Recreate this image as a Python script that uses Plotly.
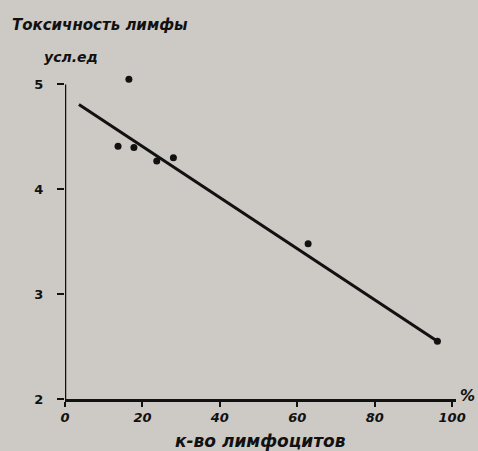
import plotly.graph_objects as go

# Data
lymph_pct = [13.7, 16.5, 17.8, 23.7, 28.0, 62.8, 96.2]
toxicity = [4.41, 5.05, 4.40, 4.27, 4.30, 3.48, 2.55]
fit_x = [3.6, 96.2]
fit_y = [4.81, 2.55]
x_ticks = [0, 20, 40, 60, 80, 100]
y_ticks = [2, 3, 4, 5]

BG = "#cdc9c4"
INK = "#111111"
FONT = "DejaVu Sans"

fig = go.Figure()
fig.add_trace(go.Scatter(x=fit_x, y=fit_y, mode="lines",
                         line=dict(color=INK, width=3), hoverinfo="skip"))
fig.add_trace(go.Scatter(x=lymph_pct, y=toxicity, mode="markers",
                         marker=dict(color=INK, size=7)))

# y axis line drawn only from 2 to 5 (range extends slightly above for the top point)
fig.add_shape(type="line", xref="x", yref="y", x0=0, x1=0, y0=y_ticks[0], y1=y_ticks[-1],
              line=dict(color=INK, width=2.5), layer="above")

tick_font = dict(family=FONT, size=13, color=INK, weight="bold", style="italic")

# plot area spans x 65..460 px, y 74..399 px
def px(x):
    return (x - 65) / 395

def py(y):
    return (399 - y) / 325

fig.update_layout(
    width=478, height=451,
    paper_bgcolor=BG, plot_bgcolor=BG,
    showlegend=False,
    margin=dict(l=65, r=18, t=74, b=52),
    xaxis=dict(range=[0, 101], tickvals=x_ticks, showgrid=False, zeroline=False,
               showline=True, linecolor=INK, linewidth=2.5,
               ticks="outside", ticklen=5, tickwidth=2, tickcolor=INK,
               tickfont=tick_font),
    yaxis=dict(range=[2, 5.1], tickvals=y_ticks, showgrid=False, zeroline=False,
               showline=False,
               ticks="outside", ticklen=7, tickwidth=2, tickcolor=INK,
               tickfont=dict(family=FONT, size=13, color=INK, weight="bold"),
               ticklabelstandoff=11),
    annotations=[
        dict(text="Токсичность лимфы", x=px(9), y=py(25), xref="paper", yref="paper",
             xanchor="left", yanchor="middle", showarrow=False,
             font=dict(family=FONT, size=15, color=INK, weight="bold", style="italic")),
        dict(text="усл.ед", x=px(42), y=py(57), xref="paper", yref="paper",
             xanchor="left", yanchor="middle", showarrow=False,
             font=dict(family=FONT, size=14, color=INK, weight="bold", style="italic")),
        dict(text="к-во лимфоцитов", x=px(262), y=py(441), xref="paper", yref="paper",
             xanchor="center", yanchor="middle", showarrow=False,
             font=dict(family=FONT, size=17, color=INK, weight="bold", style="italic")),
        dict(text="%", x=px(462), y=py(396), xref="paper", yref="paper",
             xanchor="left", yanchor="middle", showarrow=False,
             font=dict(family=FONT, size=15, color=INK, weight="bold", style="italic")),
    ],
)

fig.write_html("out.html", config={"displayModeBar": False},
               post_script="document.body.style.margin='0';document.body.style.background='%s';" % BG)
